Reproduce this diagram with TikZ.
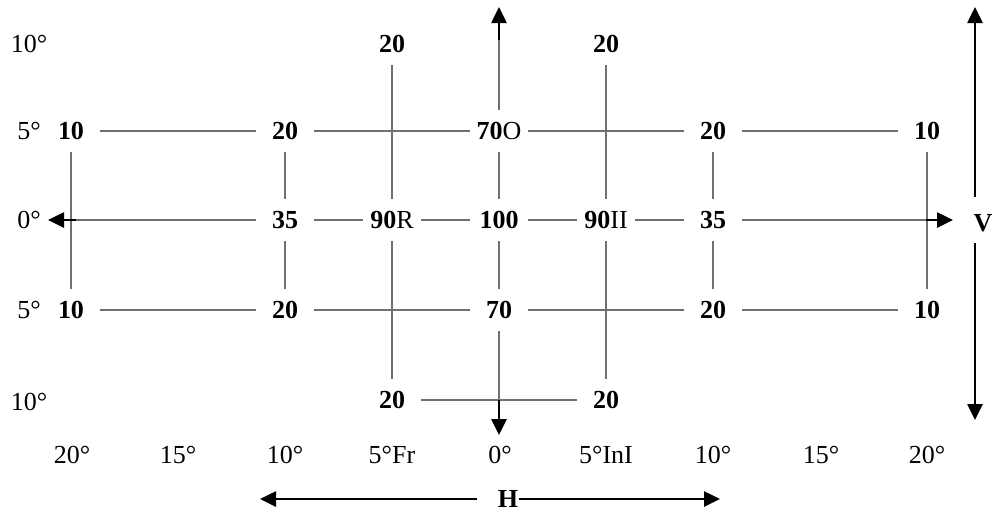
\documentclass[tikz,border=0pt]{standalone}
\usepackage{fontspec}
\setmainfont{Liberation Serif}
\usetikzlibrary{arrows.meta}
\definecolor{linegray}{RGB}{112,112,112}
\tikzset{
  num/.style={font=\fontsize{13}{15}\selectfont\bfseries, minimum width=29pt, minimum height=21pt, inner sep=0pt},
  deg/.style={font=\fontsize{13}{15}\selectfont, inner sep=0pt},
  grid line/.style={draw=linegray, line width=1pt},
  axis/.style={-{Triangle[length=8pt,width=7.5pt]}, line width=1.3pt, black},
}
\begin{document}
\begin{tikzpicture}[x=0.5pt,y=-0.5pt]
    \useasboundingbox (0,0) rectangle (993,516);
    % upper rows
    \node[deg] (l10a) at (29,44) {10°};
    \node[num] (t20L) at (392,44) {20};
    \node[num] (t20R) at (606,44) {20};
    \node[deg] (l5a) at (29,131) {5°};
    \node[num] (a10L) at (71,131) {10};
    \node[num] (a20L) at (285,131) {20};
    \node[num] (a70) at (499,131) {70\mdseries O};
    \node[num] (a20R) at (713,131) {20};
    \node[num] (a10R) at (927,131) {10};
    % middle row
    \node[deg] (l0) at (29,220) {0°};
    \node[num] (m35L) at (285,220) {35};
    \node[num] (m90L) at (392,220) {90\mdseries R};
    \node[num] (m100) at (499,220) {100};
    \node[num] (m90R) at (606,220) {90\mdseries II};
    \node[num] (m35R) at (713,220) {35};
    \node[deg, font=\fontsize{13}{15}\selectfont\bfseries] (V) at (983,223) {V};
    % lower rows
    \node[deg] (l5b) at (29,310) {5°};
    \node[num] (b10L) at (71,310) {10};
    \node[num] (b20L) at (285,310) {20};
    \node[num] (b70) at (499,310) {70};
    \node[num] (b20R) at (713,310) {20};
    \node[num] (b10R) at (927,310) {10};
    \node[deg] (l10b) at (29,402) {10°};
    \node[num] (d20L) at (392,400) {20};
    \node[num] (d20R) at (606,400) {20};
    % scale
    \node[deg] (s20L) at (72,455) {20°};
    \node[deg] (s15L) at (178,455) {15°};
    \node[deg] (s10L) at (285,455) {10°};
    \node[deg] (s5L) at (392,455) {5°Fr};
    \node[deg] (s0) at (500,455) {0°};
    \node[deg] (s5R) at (606,455) {5°InI};
    \node[deg] (s10R) at (713,455) {10°};
    \node[deg] (s15R) at (821,455) {15°};
    \node[deg] (s20R) at (927,455) {20°};
    \node[deg, font=\fontsize{13}{15}\selectfont\bfseries] (H) at (508,499) {H};
    % axis ends
    \coordinate (hL) at (48,220);
    \coordinate (hLs) at (76,220);
    \coordinate (hR) at (953,220);
    \coordinate (hRs) at (926,220);
    \coordinate (vT) at (499,7);
    \coordinate (vTs) at (499,40);
    \coordinate (vBs) at (499,400);
    \coordinate (vB) at (499,435);
    \coordinate (VT) at (975,7);
    \coordinate (VTs) at (975,197);
    \coordinate (VB) at (975,420);
    \coordinate (VBs) at (975,243);
    \coordinate (HL) at (260,499);
    \coordinate (HLs) at (477,499);
    \coordinate (HR) at (720,499);
    % grid lines
    \draw[grid line] (a10L) -- (a20L) -- (a70) -- (a20R) -- (a10R);
    \draw[grid line] (m35L) -- (m90L) -- (m100) -- (m90R) -- (m35R);
    \draw[grid line] (b10L) -- (b20L) -- (b70) -- (b20R) -- (b10R);
    \draw[grid line] (d20L) -- (d20R);
    \draw[grid line] (hLs) -- (m35L);
    \draw[grid line] (m35R) -- (hRs);
    \draw[grid line] (a10L) -- (b10L);
    \draw[grid line] (a10R) -- (b10R);
    \draw[grid line] (a20L) -- (m35L) -- (b20L);
    \draw[grid line] (a20R) -- (m35R) -- (b20R);
    \draw[grid line] (t20L) -- (m90L) -- (d20L);
    \draw[grid line] (t20R) -- (m90R) -- (d20R);
    \draw[grid line] (vTs) -- (a70) -- (m100) -- (b70) -- (vBs);
    % arrows
    \draw[axis] (hLs) -- (hL);
    \draw[axis] (hRs) -- (hR);
    \draw[axis] (vTs) -- (vT);
    \draw[axis] (vBs) -- (vB);
    \draw[axis] (VTs) -- (VT);
    \draw[axis] (VBs) -- (VB);
    \draw[axis] (HLs) -- (HL);
    \draw[axis] (H) -- (HR);
\end{tikzpicture}
\end{document}
